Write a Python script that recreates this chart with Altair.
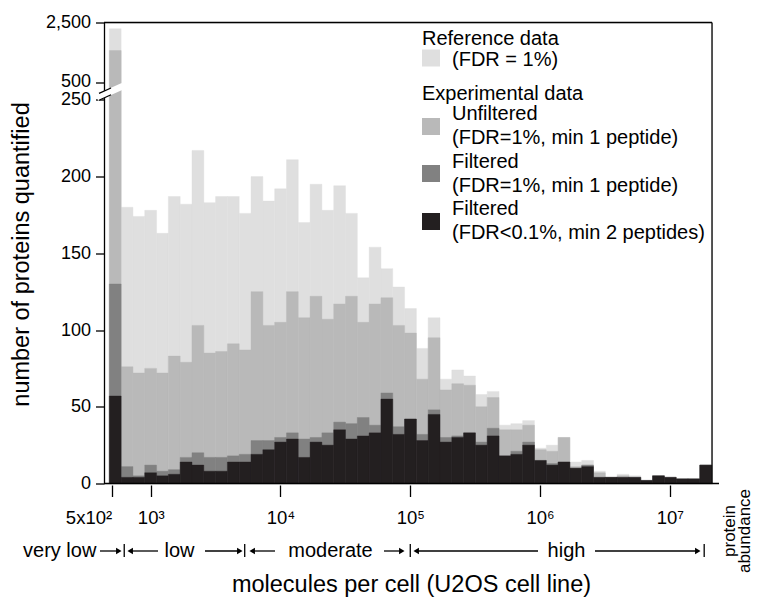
import altair as alt
import pandas as pd

# ---------------- data ----------------
BIN_LOG10_START = 2.681   # left edge of first bin, log10(molecules per cell)
BIN_LOG10_WIDTH = 0.091   # bin width in log10 units

reference_fdr1 = [2290, 180, 174, 178, 163, 187, 182, 217, 183, 187,
                  187, 176, 200, 184, 192, 211, 170, 195, 178, 194,
                  176, 134, 154, 140, 128, 114, 88, 108, 68, 74,
                  70, 58, 60, 38, 39, 41, 23, 25, 30, 14,
                  15, 8, 4, 6, 5, 2, 5, 4, 3, 3, 12]
unfiltered_fdr1 = [1567, 76, 72, 75, 72, 83, 79, 103, 85, 86,
                   91, 87, 125, 103, 105, 125, 108, 122, 107, 117,
                   122, 105, 117, 121, 103, 98, 68, 95, 61, 65,
                   64, 50, 56, 35, 35, 38, 22, 21, 30, 11,
                   12, 7, 4, 5, 4, 2, 5, 4, 3, 3, 12]
filtered_fdr1 = [130, 11, 5, 12, 8, 9, 17, 20, 17, 17,
                 18, 19, 28, 28, 30, 33, 29, 30, 33, 40,
                 39, 43, 38, 59, 37, 42, 32, 48, 30, 31,
                 33, 27, 36, 18, 21, 27, 15, 13, 14, 10,
                 12, 4, 4, 4, 4, 2, 5, 4, 3, 3, 12]
filtered_fdr01 = [57, 4, 4, 7, 5, 6, 14, 12, 8, 8,
                  14, 14, 19, 22, 27, 29, 17, 27, 25, 35,
                  29, 31, 33, 55, 32, 42, 28, 45, 27, 30,
                  33, 25, 31, 18, 19, 25, 15, 12, 14, 10,
                  11, 4, 4, 4, 4, 2, 5, 4, 3, 3, 12]

SERIES = ["reference", "unfiltered", "filtered_fdr1", "filtered_fdr01"]
COLORS = ["#dfdfdf", "#b9b9b9", "#818181", "#231f20"]

X_TICKS = [500, 1e3, 1e4, 1e5, 1e6, 1e7]
X_TICK_LABELS = ["5x10²", "10³", "10⁴", "10⁵", "10⁶", "10⁷"]
Y_TICKS = [0, 50, 100, 150, 200, 250, 500, 2500]
Y_TICK_LABELS = ["0", "50", "100", "150", "200", "250", "500", "2,500"]

CLASS_BOUNDS = [625, 5300, 1.0e5, 1.84e7]
CLASS_NAMES = ["very low", "low", "moderate", "high"]

# ---------------- broken y axis mapping ----------------
BREAK_LOW = 260          # counts up to here drawn linearly
UPPER_BASE = 500
UPPER_BASE_POS = 261.28  # display position of 500
UPPER_SLOPE = 0.019557   # compression above the break


def disp(v):
    return v if v <= BREAK_LOW else UPPER_BASE_POS + (v - UPPER_BASE) * UPPER_SLOPE


Y_TOP = disp(2500)
Y_TICK_POS = [disp(v) for v in Y_TICKS]

# ---------------- layout ----------------
W, H = 608, 461
FONT = "Liberation Sans"

rows = []
for name, vals in zip(SERIES, [reference_fdr1, unfiltered_fdr1, filtered_fdr1, filtered_fdr01]):
    for i, v in enumerate(vals):
        lo = BIN_LOG10_START + i * BIN_LOG10_WIDTH
        rows.append({"series": name, "lo": 10 ** lo, "hi": 10 ** (lo + BIN_LOG10_WIDTH), "count": v})
df = pd.DataFrame(rows)


def build_expr(positions, labels, geometric=False):
    expr = f"'{labels[-1]}'"
    for i in range(len(positions) - 2, -1, -1):
        if geometric:
            mid = (positions[i] * positions[i + 1]) ** 0.5
        else:
            mid = (positions[i] + positions[i + 1]) / 2
        expr = f"datum.value < {mid} ? '{labels[i]}' : ({expr})"
    return expr


xscale = alt.Scale(type="log", domain=[10 ** 2.64, 10 ** 7.325], nice=False)
yscale = alt.Scale(domain=[0, Y_TOP], nice=False, zero=False)

xaxis = alt.Axis(
    values=X_TICKS, labelExpr=build_expr(X_TICKS, X_TICK_LABELS, True),
    domain=False, grid=False, offset=1.5, tickSize=11.5, tickWidth=1.3, tickColor="black",
    labelFontSize=18.5, labelColor="black", labelBaseline="alphabetic", labelPadding=27,
    labelFlush=False, labelOverlap=False,
    labelAlign={"condition": {"test": "datum.value < 700", "value": "right"}, "value": "center"},
    title="molecules per cell (U2OS cell line)", titleFontSize=23.5, titleFontWeight="normal",
    titleColor="black", titleBaseline="alphabetic", titleY=106, titleX=307,
)
yaxis = alt.Axis(
    values=Y_TICK_POS, labelExpr=build_expr(Y_TICK_POS, Y_TICK_LABELS),
    domain=True, domainColor="black", domainWidth=1.3, grid=False,
    tickSize=8.5, tickWidth=1.3, tickColor="black",
    labelFontSize=18, labelColor="black", labelPadding=5, labelFlush=False, labelOverlap=False,
    labelOffset={"condition": {"test": "datum.value > 255 && datum.value < 280", "value": -1.5},
                 "value": 0},
    title="number of proteins quantified", titleFontSize=23.5, titleFontWeight="normal",
    titleColor="black", titleAngle=270, titleBaseline="alphabetic", titleAlign="center",
    titleX=-76, titleY=231.5,
)

disp_expr = (f"datum.count <= {BREAK_LOW} ? datum.count : "
             f"{UPPER_BASE_POS} + (datum.count - {UPPER_BASE}) * {UPPER_SLOPE}")

base = alt.Chart(df).transform_calculate(disp=disp_expr, zero="0")
layers = []
for name, col in zip(SERIES, COLORS):
    layers.append(
        base.transform_filter(alt.datum.series == name)
        .mark_rect(color=col, stroke=col, strokeWidth=0.4)
        .encode(
            x=alt.X("lo:Q", scale=xscale, axis=xaxis),
            x2="hi:Q",
            y=alt.Y("disp:Q", scale=yscale, axis=yaxis),
            y2="zero:Q",
        )
    )

dummy = alt.Data(values=[{"d": 0}])


def rule(x, y, x2=None, y2=None, color="black", width=1.3):
    enc = {"x": alt.value(x), "y": alt.value(y)}
    if x2 is not None:
        enc["x2"] = alt.value(x2)
    if y2 is not None:
        enc["y2"] = alt.value(y2)
    return alt.Chart(dummy).mark_rule(color=color, strokeWidth=width, strokeCap="butt").encode(**enc)


def text(t, x, y, size=20, align="left", baseline="alphabetic", angle=0):
    kw = dict(align=align, baseline=baseline, fontSize=size, color="black", font=FONT)
    if angle:
        kw["angle"] = angle
    return alt.Chart(dummy).mark_text(**kw).encode(
        x=alt.value(x), y=alt.value(y), text=alt.value(t))


# frame
layers += [
    rule(0, 0, x2=W),
    rule(W, 0, y2=H),
    rule(0, H, x2=W + 7),
]

# axis break
layers += [
    rule(-7, 75.2, x2=19, y2=63.5, color="white", width=6.5),
    rule(-5, 70.9, x2=7, y2=65.5, width=1.2),
    rule(-5, 77.7, x2=7, y2=72.3, width=1.2),
]

# legend
SW_X0, SW_X1 = 318, 336
swatch_y = [(27, 44), (95.5, 112.5), (142.5, 159.5), (190.5, 207.5)]
for col, (y0, y1) in zip(COLORS, swatch_y):
    layers.append(alt.Chart(dummy).mark_rect(color=col).encode(
        x=alt.value(SW_X0), x2=alt.value(SW_X1), y=alt.value(y0), y2=alt.value(y1)))
legend_lines = [
    ("Reference data", 318, 22.5),
    ("(FDR = 1%)", 348, 43.5),
    ("Experimental data", 318, 77.5),
    ("Unfiltered", 348, 97.5),
    ("(FDR=1%, min 1 peptide)", 348, 121.5),
    ("Filtered", 348, 145),
    ("(FDR=1%, min 1 peptide)", 348, 169),
    ("Filtered", 348, 192),
    ("(FDR<0.1%, min 2 peptides)", 348, 216.5),
]
for t, x, y in legend_lines:
    layers.append(text(t, x, y))

# abundance classes row
ROW_Y = 528.5
bounds_df = pd.DataFrame({"b": CLASS_BOUNDS})
layers.append(
    alt.Chart(bounds_df).mark_rule(color="black", strokeWidth=1.3).encode(
        x=alt.X("b:Q", scale=xscale, axis=xaxis), y=alt.value(521.5), y2=alt.value(534.5))
)
class_x = [-44.3, 75.5, 226.5, 462.5]
for name, x in zip(CLASS_NAMES, class_x):
    layers.append(text(name, x, 534.8, size=20, align="center"))
arrows = [(-4, 18), (54, 23), (101, 139), (171, 145), (280, 301), (434, 309), (491, 597)]
for tail, tip in arrows:
    direction = 1 if tip > tail else -1
    layers.append(rule(tail, ROW_Y, x2=tip - direction * 3, width=1.3))
    layers.append(alt.Chart(dummy).mark_point(
        shape="triangle-right" if direction > 0 else "triangle-left",
        filled=True, color="black", size=40, opacity=1, strokeWidth=0).encode(
        x=alt.value(tip - direction * 3.2), y=alt.value(ROW_Y)))

layers.append(text("protein", 625.5, 508.5, size=17, align="center", baseline="middle", angle=270))
layers.append(text("abundance", 641, 508.5, size=17, align="center", baseline="middle", angle=270))

chart = alt.layer(*layers).properties(
    width=W, height=H,
    padding={"left": 96, "top": 14.5, "right": 42, "bottom": 113.5},
    autosize=alt.AutoSizeParams(type="none"),
).configure_view(stroke=None).configure(font=FONT)

chart.save("out.html", embed_options={"renderer": "svg", "actions": False})
